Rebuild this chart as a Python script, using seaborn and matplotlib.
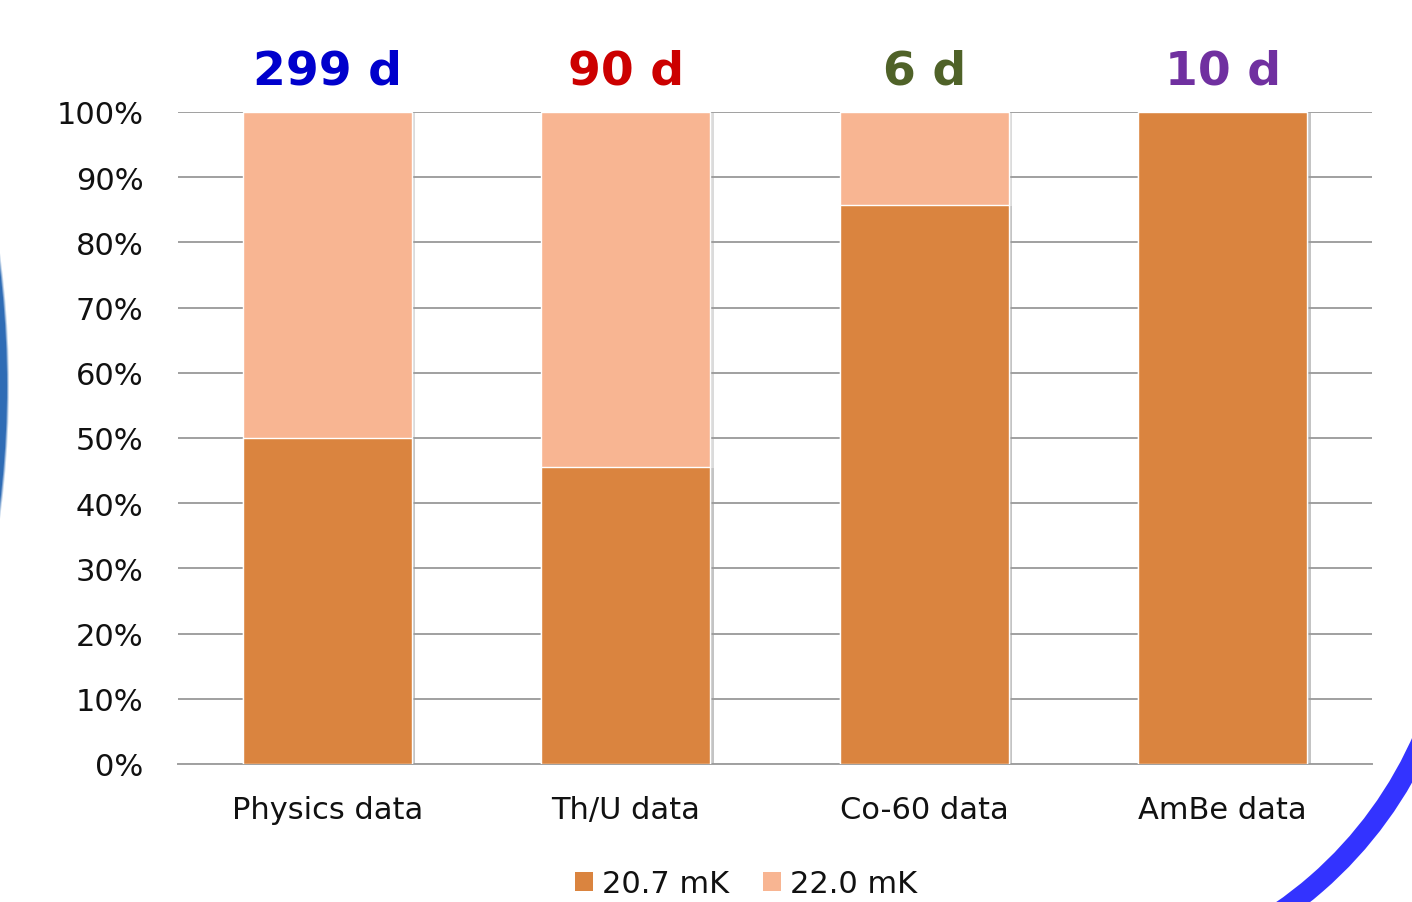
import numpy as np
import pandas as pd
import matplotlib
matplotlib.use("Agg")
import matplotlib.pyplot as plt
import matplotlib.patheffects as pe
from matplotlib.patches import Patch, Arc, Circle
from matplotlib.transforms import IdentityTransform
import seaborn as sns

# Share of live time at each mixing-chamber temperature, per data set
categories = ["Physics data", "Th/U data", "Co-60 data", "AmBe data"]
share_207 = [50.0, 45.5, 85.7, 100.0]   # 20.7 mK
share_220 = [50.0, 54.5, 14.3, 0.0]     # 22.0 mK
exposure_days = [299, 90, 6, 10]
day_colors = ["#0000CC", "#CC0000", "#4F6228", "#7030A0"]
series_labels = ["20.7 mK", "22.0 mK"]
yticks = [0, 10, 20, 30, 40, 50, 60, 70, 80, 90, 100]

c_dark = "#DA843F"
c_light = "#F8B592"

sns.set_theme(style="white")
plt.rcParams["font.family"] = ["DejaVu Sans"]

df = pd.DataFrame({
    "set": categories,
    "low": share_207,
    "total": np.array(share_207) + np.array(share_220),
})

W, H = 1412, 903
fig = plt.figure(figsize=(W / 100, H / 100), dpi=100)
fig.patch.set_facecolor("white")

# slide decorations behind the chart (pixel coordinates)
pix = IdentityTransform()
for grow, alpha in [(2.0, 0.25), (1.0, 0.5), (0.0, 1.0)]:
    fig.add_artist(Circle((-974, H - 387), 981 + grow, transform=pix,
                          facecolor="#2F6CB5", edgecolor="none", alpha=alpha, zorder=0))
fig.add_artist(Arc((1048, H - 576), 2 * 409, 2 * 409, theta1=-75, theta2=-23,
                   transform=pix, color="#3333FF", lw=14.6, zorder=0))

ax = fig.add_axes([178 / W, 1 - 765 / H, (1372 - 178) / W, (765 - 113) / H])
ax.set_facecolor("white")

shadow = [pe.SimplePatchShadow(offset=(2.5, -0.5), shadow_rgbFace="#9a9a9a", alpha=0.35),
          pe.Normal()]

sns.barplot(data=df, x="set", y="total", color=c_light, width=0.566,
            saturation=1, edgecolor="white", linewidth=1.0, ax=ax, zorder=3)
sns.barplot(data=df, x="set", y="low", color=c_dark, width=0.566,
            saturation=1, edgecolor="white", linewidth=1.0, ax=ax, zorder=4)
for p in ax.patches:
    p.set_path_effects(shadow)

ax.set_xlim(-0.5, 3.5)
ax.set_ylim(0, 100)
ax.set_yticks(yticks)
ax.set_yticklabels([f"{v}%" for v in yticks])
ax.yaxis.grid(True, color="#a0a0a0", linewidth=1.4, zorder=0)
ax.set_axisbelow(True)
for s in ["left", "right", "top"]:
    ax.spines[s].set_visible(False)
ax.spines["bottom"].set_color("#a0a0a0")
ax.spines["bottom"].set_linewidth(1.4)
ax.tick_params(axis="y", length=0, pad=25, labelsize=22, labelcolor="#111111")
ax.tick_params(axis="x", length=0, pad=22, labelsize=22, labelcolor="#111111")
ax.set_xlabel("")
ax.set_ylabel("")

# exposure above each bar
for i, (d, c) in enumerate(zip(exposure_days, day_colors)):
    ax.text(i, 106.3, f"{d} d", ha="center", va="center", color=c,
            fontsize=34, fontweight="bold", clip_on=False)

handles = [Patch(facecolor=c_dark, edgecolor="none"),
           Patch(facecolor=c_light, edgecolor="none")]
fig.legend(handles, series_labels, loc="center",
           bbox_to_anchor=(746 / W, 1 - 885 / H), ncol=2, frameon=False,
           fontsize=22, handlelength=0.6, handleheight=0.6,
           handletextpad=0.3, columnspacing=1.1, labelcolor="#111111")

fig.savefig("out.png", dpi=100, facecolor="white")
